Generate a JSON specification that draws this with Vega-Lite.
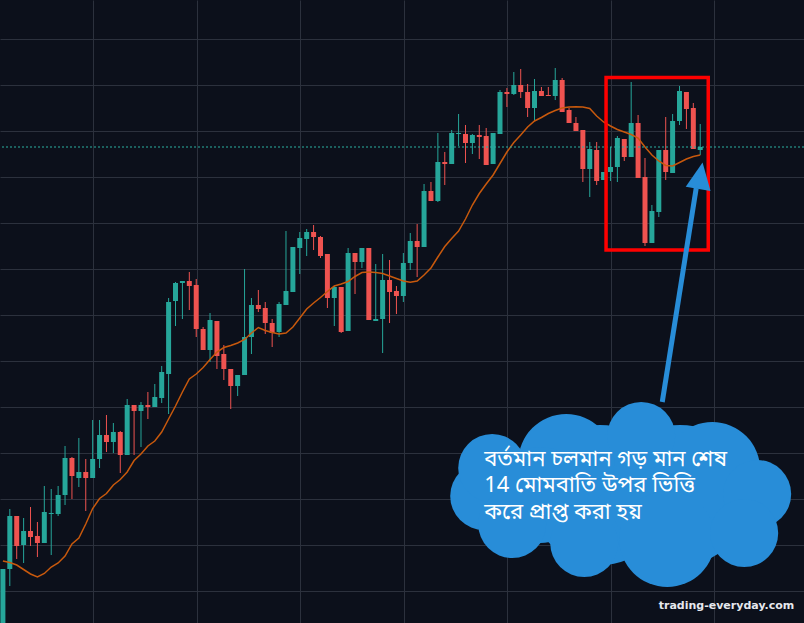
{
  "$schema": "https://vega.github.io/schema/vega-lite/v6.json",
  "width": 804,
  "height": 623,
  "autosize": {"type": "none"},
  "padding": 0,
  "background": "#0c101b",
  "config": {
    "view": {"stroke": null},
    "axis": {"grid": true, "gridColor": "#2c313d", "gridWidth": 1, "labels": false, "ticks": false, "domain": false, "zindex": 0}
  },
  "datasets": {
    "candles": [
      {"i":0,"o":-17,"h":54,"l":-17,"c":54,"ma":62},
      {"i":1,"o":54,"h":114,"l":37,"c":107,"ma":60.5},
      {"i":2,"o":107,"h":107,"l":64,"c":77,"ma":58},
      {"i":3,"o":78,"h":105,"l":60,"c":92,"ma":53.5},
      {"i":4,"o":92,"h":116,"l":77,"c":86,"ma":49},
      {"i":5,"o":87,"h":101,"l":66,"c":80,"ma":46},
      {"i":6,"o":80,"h":137,"l":80,"c":111,"ma":49.5},
      {"i":7,"o":109,"h":134,"l":68,"c":110,"ma":56},
      {"i":8,"o":109,"h":137,"l":107,"c":128,"ma":60},
      {"i":9,"o":128,"h":177,"l":118,"c":165,"ma":67},
      {"i":10,"o":165,"h":166,"l":124,"c":147,"ma":79},
      {"i":11,"o":145,"h":185,"l":136,"c":151,"ma":85},
      {"i":12,"o":151,"h":164,"l":112,"c":145,"ma":99},
      {"i":13,"o":145,"h":203,"l":145,"c":164,"ma":114.5},
      {"i":14,"o":164,"h":203,"l":155,"c":188,"ma":124.5},
      {"i":15,"o":188,"h":208,"l":171,"c":181,"ma":129.5},
      {"i":16,"o":181,"h":200,"l":170,"c":191,"ma":138},
      {"i":17,"o":191,"h":192,"l":150,"c":168,"ma":143.5},
      {"i":18,"o":168,"h":224,"l":168,"c":218,"ma":151},
      {"i":19,"o":218,"h":218,"l":168,"c":212,"ma":162.5},
      {"i":20,"o":212,"h":221,"l":176,"c":218,"ma":169},
      {"i":21,"o":218,"h":231,"l":204,"c":216,"ma":177},
      {"i":22,"o":216,"h":239,"l":216,"c":226,"ma":182},
      {"i":23,"o":225,"h":257,"l":220,"c":251,"ma":191},
      {"i":24,"o":249,"h":325,"l":209,"c":321,"ma":204},
      {"i":25,"o":322,"h":341,"l":297,"c":340,"ma":217},
      {"i":26,"o":340,"h":342,"l":304,"c":342,"ma":231},
      {"i":27,"o":342,"h":351,"l":313,"c":337,"ma":244},
      {"i":28,"o":338,"h":344,"l":286,"c":294,"ma":249},
      {"i":29,"o":294,"h":296,"l":273,"c":273,"ma":255.5},
      {"i":30,"o":273,"h":310,"l":261,"c":303,"ma":263.5},
      {"i":31,"o":302,"h":302,"l":254,"c":267,"ma":271},
      {"i":32,"o":269,"h":278,"l":243,"c":254,"ma":275.5},
      {"i":33,"o":254,"h":254,"l":214,"c":237,"ma":277.5},
      {"i":34,"o":237,"h":248,"l":227,"c":248,"ma":280},
      {"i":35,"o":248,"h":354,"l":248,"c":286,"ma":283.5},
      {"i":36,"o":286,"h":325,"l":269,"c":318,"ma":290},
      {"i":37,"o":318,"h":333,"l":311,"c":314,"ma":295.5},
      {"i":38,"o":315,"h":321,"l":289,"c":300,"ma":292.5},
      {"i":39,"o":300,"h":304,"l":276,"c":290,"ma":290.5},
      {"i":40,"o":291,"h":321,"l":286,"c":319,"ma":289},
      {"i":41,"o":318,"h":392,"l":318,"c":332,"ma":290},
      {"i":42,"o":331,"h":376,"l":331,"c":376,"ma":296},
      {"i":43,"o":375,"h":391,"l":349,"c":385,"ma":305},
      {"i":44,"o":384,"h":394,"l":367,"c":391,"ma":314},
      {"i":45,"o":391,"h":398,"l":373,"c":386,"ma":320},
      {"i":46,"o":386,"h":387,"l":365,"c":367,"ma":325.5},
      {"i":47,"o":369,"h":369,"l":315,"c":325,"ma":331.5},
      {"i":48,"o":325,"h":337,"l":297,"c":336,"ma":337},
      {"i":49,"o":336,"h":336,"l":290,"c":291,"ma":339},
      {"i":50,"o":292,"h":375,"l":292,"c":370,"ma":341.5},
      {"i":51,"o":370,"h":370,"l":329,"c":361,"ma":346.5},
      {"i":52,"o":361,"h":375,"l":355,"c":375,"ma":350.5},
      {"i":53,"o":375,"h":375,"l":303,"c":303,"ma":351},
      {"i":54,"o":302,"h":359,"l":302,"c":304,"ma":350.5},
      {"i":55,"o":304,"h":369,"l":270,"c":343,"ma":349.5},
      {"i":56,"o":343,"h":363,"l":300,"c":331,"ma":347},
      {"i":57,"o":332,"h":337,"l":309,"c":327,"ma":344.5},
      {"i":58,"o":327,"h":370,"l":321,"c":360,"ma":342},
      {"i":59,"o":360,"h":390,"l":353,"c":382,"ma":340.7},
      {"i":60,"o":382,"h":399,"l":346,"c":376,"ma":342},
      {"i":61,"o":376,"h":439,"l":376,"c":432,"ma":348},
      {"i":62,"o":432,"h":441,"l":422,"c":422,"ma":355},
      {"i":63,"o":422,"h":490,"l":421,"c":461,"ma":366},
      {"i":64,"o":461,"h":471,"l":438,"c":459,"ma":376.5},
      {"i":65,"o":459,"h":493,"l":459,"c":490,"ma":384.5},
      {"i":66,"o":489,"h":509,"l":477,"c":490,"ma":392},
      {"i":67,"o":489,"h":498,"l":460,"c":480,"ma":404},
      {"i":68,"o":480,"h":489,"l":469,"c":488,"ma":418},
      {"i":69,"o":488,"h":498,"l":464,"c":486,"ma":429.5},
      {"i":70,"o":487,"h":495,"l":458,"c":458,"ma":439},
      {"i":71,"o":459,"h":490,"l":459,"c":490,"ma":448},
      {"i":72,"o":489,"h":533,"l":489,"c":531,"ma":459.5},
      {"i":73,"o":531,"h":535,"l":516,"c":529,"ma":471},
      {"i":74,"o":529,"h":551,"l":528,"c":538,"ma":480.5},
      {"i":75,"o":538,"h":554,"l":525,"c":531,"ma":488},
      {"i":76,"o":531,"h":539,"l":506,"c":515,"ma":496},
      {"i":77,"o":515,"h":544,"l":502,"c":532,"ma":502},
      {"i":78,"o":532,"h":536,"l":527,"c":527,"ma":505.5},
      {"i":79,"o":528,"h":536,"l":527,"c":527,"ma":509.5},
      {"i":80,"o":527,"h":555,"l":523,"c":543,"ma":512.5},
      {"i":81,"o":543,"h":545,"l":511,"c":511,"ma":515},
      {"i":82,"o":513,"h":515,"l":500,"c":500,"ma":516},
      {"i":83,"o":500,"h":506,"l":492,"c":492,"ma":516.3},
      {"i":84,"o":493,"h":493,"l":441,"c":454,"ma":516},
      {"i":85,"o":454,"h":481,"l":426,"c":474,"ma":514.5},
      {"i":86,"o":473,"h":481,"l":438,"c":442,"ma":507},
      {"i":87,"o":443,"h":451,"l":443,"c":451,"ma":501},
      {"i":88,"o":451,"h":476,"l":442,"c":456,"ma":497},
      {"i":89,"o":456,"h":487,"l":441,"c":485,"ma":493.5},
      {"i":90,"o":484,"h":484,"l":462,"c":466,"ma":491},
      {"i":91,"o":466,"h":541,"l":466,"c":500,"ma":488.5},
      {"i":92,"o":500,"h":508,"l":445,"c":445,"ma":485},
      {"i":93,"o":446,"h":465,"l":377,"c":380,"ma":476},
      {"i":94,"o":380,"h":418,"l":380,"c":412,"ma":468},
      {"i":95,"o":411,"h":473,"l":406,"c":473,"ma":462},
      {"i":96,"o":473,"h":506,"l":443,"c":451,"ma":457.5},
      {"i":97,"o":450,"h":509,"l":450,"c":502,"ma":457},
      {"i":98,"o":502,"h":537,"l":498,"c":532,"ma":460.5},
      {"i":99,"o":531,"h":531,"l":494,"c":514,"ma":464},
      {"i":100,"o":515,"h":520,"l":474,"c":474,"ma":466.5},
      {"i":101,"o":473,"h":499,"l":468,"c":476,"ma":468}
    ],
    "last": [{"p": 476}],
    "box": [{"x1": 87.36, "x2": 102.16, "y1": 545.5, "y2": 373}],
    "arrow": [{"x0": 95.5, "y0": 221, "x1": 100.42, "y1": 435, "hx": 101.0, "hy": 446.6}],
    "cloudSmall": [
      {"cx": 69.71, "cy": 127}, {"cx": 70.87, "cy": 155}, {"cx": 109.25, "cy": 129},
      {"cx": 107.37, "cy": 90}, {"cx": 84.2, "cy": 80}, {"cx": 73.77, "cy": 99},
      {"cx": 92.45, "cy": 187}
    ],
    "cloudBig": [
      {"cx": 81.59, "cy": 161}, {"cx": 102.74, "cy": 153}, {"cx": 96.22, "cy": 84},
      {"cx": 77.82, "cy": 128}
    ],
    "cloudFill": [{"cx": 86.52, "cy": 128}, {"cx": 98.1, "cy": 128}],
    "notes": [
      {"tx": 69.71, "ty": 157.5, "label": "বর্তমান চলমান গড় মান শেষ"},
      {"tx": 69.71, "ty": 131, "label": "14 মোমবাতি উপর ভিত্তি"},
      {"tx": 69.71, "ty": 104.5, "label": "করে প্রাপ্ত করা হয়"}
    ],
    "mark": [{"tx": 114.62, "ty": 14, "label": "trading-everyday.com"}]
  },
  "layer": [
    {
      "data": {"name": "candles"},
      "mark": {"type": "rule", "clip": true, "strokeWidth": 1},
      "encoding": {
        "x": {"field": "i", "type": "quantitative", "title": null, "scale": {"domain": [-0.42, 116.03], "nice": false, "zero": false, "padding": 0},
              "axis": {"values": [13.05, 28.05, 43.05, 58.05, 73.05, 88.05, 103.05], "title": null, "zindex": 0}},
        "y": {"field": "l", "type": "quantitative", "title": null, "scale": {"domain": [0, 623], "nice": false, "zero": false, "padding": 0},
              "axis": {"values": [32, 78, 124, 170, 216, 262, 308, 354, 400, 446, 492, 538, 584], "title": null, "zindex": 0}},
        "y2": {"field": "h"},
        "color": {"condition": {"test": "datum.c >= datum.o", "value": "#26a69a"}, "value": "#ef5350"}
      }
    },
    {
      "data": {"name": "candles"},
      "mark": {"type": "bar", "clip": true, "width": 5},
      "encoding": {
        "x": {"field": "i", "type": "quantitative", "title": null},
        "y": {"field": "o", "type": "quantitative", "title": null},
        "y2": {"field": "c"},
        "color": {"condition": {"test": "datum.c >= datum.o", "value": "#26a69a"}, "value": "#ef5350"}
      }
    },
    {
      "data": {"name": "candles"},
      "mark": {"type": "line", "clip": true, "color": "#c8590d", "strokeWidth": 1.5},
      "encoding": {
        "x": {"field": "i", "type": "quantitative", "title": null},
        "y": {"field": "ma", "type": "quantitative", "title": null}
      }
    },
    {
      "data": {"name": "last"},
      "mark": {"type": "rule", "color": "#2bb0a2", "strokeWidth": 1, "strokeDash": [2, 2]},
      "encoding": {
        "y": {"field": "p", "type": "quantitative", "title": null}
      }
    },
    {
      "data": {"name": "box"},
      "mark": {"type": "rect", "filled": false, "stroke": "#ff0000", "strokeWidth": 3.5},
      "encoding": {
        "x": {"field": "x1", "type": "quantitative", "title": null},
        "x2": {"field": "x2"},
        "y": {"field": "y1", "type": "quantitative", "title": null},
        "y2": {"field": "y2"}
      }
    },
    {
      "data": {"name": "arrow"},
      "mark": {"type": "rule", "color": "#288dd8", "strokeWidth": 5},
      "encoding": {
        "x": {"field": "x0", "type": "quantitative", "title": null},
        "x2": {"field": "x1"},
        "y": {"field": "y0", "type": "quantitative", "title": null},
        "y2": {"field": "y1"}
      }
    },
    {
      "data": {"name": "arrow"},
      "mark": {"type": "point", "filled": true, "opacity": 1, "color": "#288dd8", "shape": "M0,-1L0.9,0.9L-0.9,0.9Z", "size": 784, "angle": 9.6},
      "encoding": {
        "x": {"field": "hx", "type": "quantitative", "title": null},
        "y": {"field": "hy", "type": "quantitative", "title": null}
      }
    },
    {
      "data": {"name": "cloudFill"},
      "mark": {"type": "point", "shape": "circle", "filled": true, "opacity": 1, "color": "#288dd8", "size": 19600},
      "encoding": {
        "x": {"field": "cx", "type": "quantitative", "title": null},
        "y": {"field": "cy", "type": "quantitative", "title": null}
      }
    },
    {
      "data": {"name": "cloudBig"},
      "mark": {"type": "point", "shape": "circle", "filled": true, "opacity": 1, "color": "#288dd8", "size": 9216},
      "encoding": {
        "x": {"field": "cx", "type": "quantitative", "title": null},
        "y": {"field": "cy", "type": "quantitative", "title": null}
      }
    },
    {
      "data": {"name": "cloudSmall"},
      "mark": {"type": "point", "shape": "circle", "filled": true, "opacity": 1, "color": "#288dd8", "size": 4624},
      "encoding": {
        "x": {"field": "cx", "type": "quantitative", "title": null},
        "y": {"field": "cy", "type": "quantitative", "title": null}
      }
    },
    {
      "data": {"name": "notes"},
      "mark": {"type": "text", "align": "left", "baseline": "alphabetic", "color": "#ffffff", "fontSize": 22, "font": "Noto Sans Bengali, Noto Sans, DejaVu Sans, sans-serif"},
      "encoding": {
        "x": {"field": "tx", "type": "quantitative", "title": null},
        "y": {"field": "ty", "type": "quantitative", "title": null},
        "text": {"field": "label"}
      }
    },
    {
      "data": {"name": "mark"},
      "mark": {"type": "text", "align": "right", "baseline": "alphabetic", "color": "#e6e8ee", "fontSize": 11, "fontWeight": "bold", "font": "DejaVu Sans"},
      "encoding": {
        "x": {"field": "tx", "type": "quantitative", "title": null},
        "y": {"field": "ty", "type": "quantitative", "title": null},
        "text": {"field": "label"}
      }
    }
  ]
}
